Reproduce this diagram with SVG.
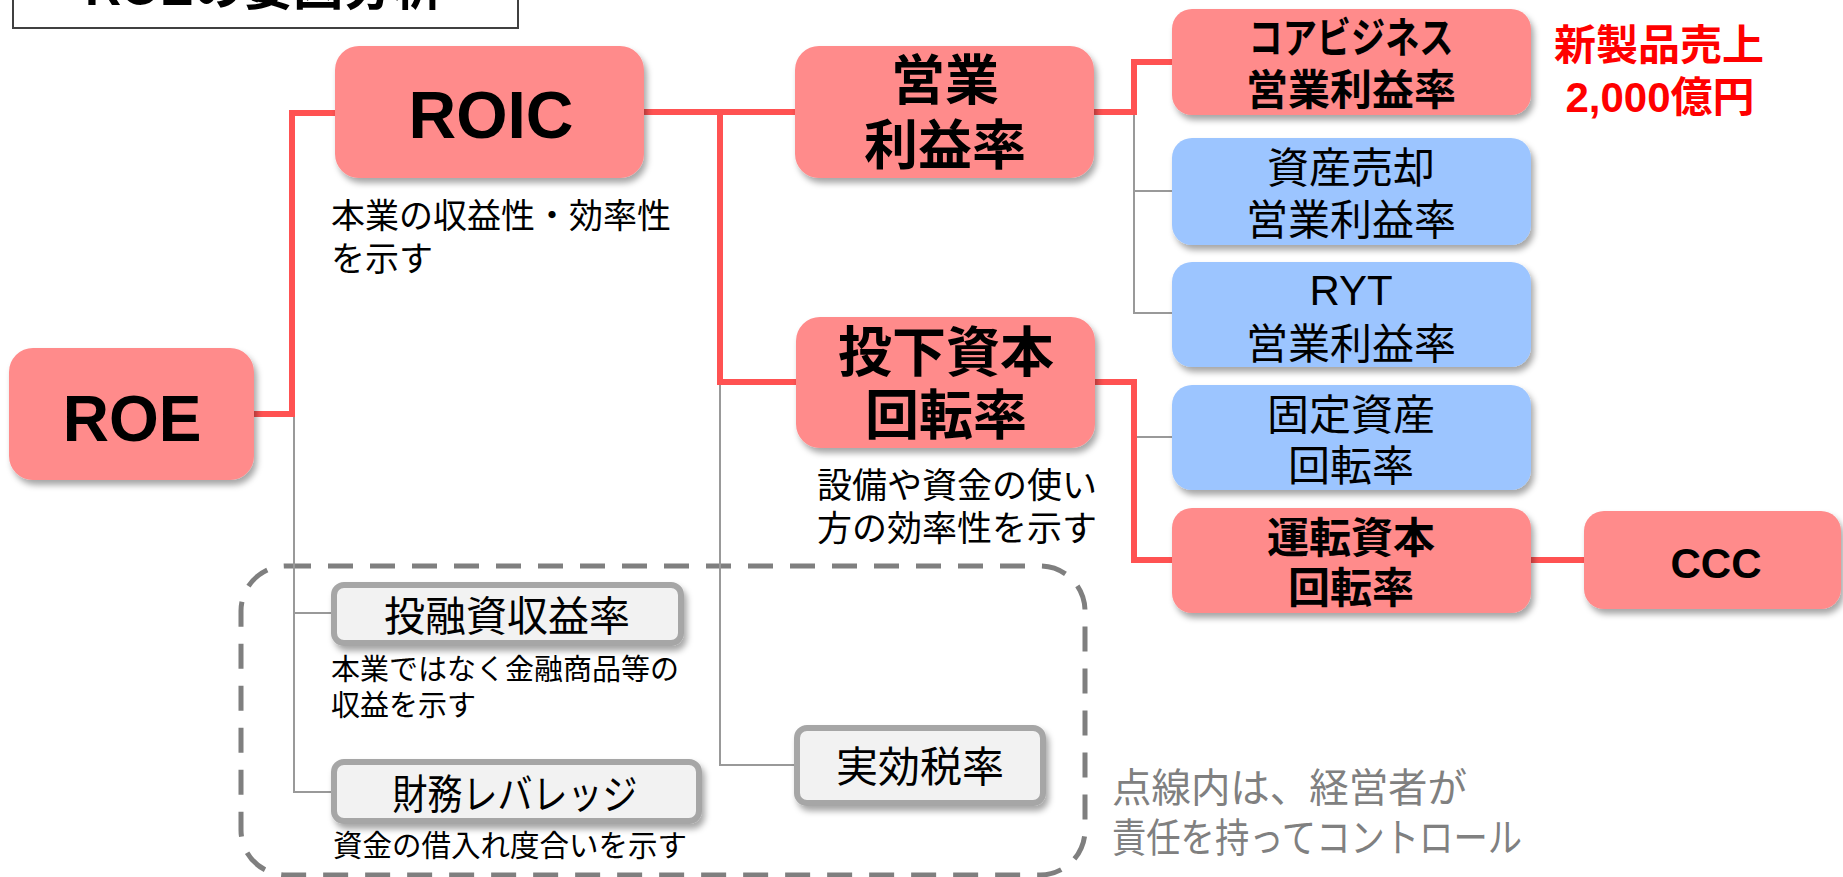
<svg xmlns="http://www.w3.org/2000/svg" width="1843" height="877" viewBox="0 0 1843 877">
<style>
.red{fill:#FF8B8B}
.blue{fill:#9CC5FF}
.gbox{fill:#F2F2F2;stroke:#A6A6A6;stroke-width:6}
.t{font-family:"Liberation Sans","Noto Sans CJK JP",sans-serif;fill:#000}
.j{font-family:"Noto Sans CJK JP",sans-serif;fill:#000}
.b{font-weight:bold}
.c{text-anchor:middle}
.rl{fill:none;stroke:#FF5252;stroke-width:6;stroke-linejoin:miter;stroke-linecap:square}
.gl{fill:none;stroke:#999999;stroke-width:2}
</style>
<defs>
<filter id="sh" x="-10%" y="-10%" width="130%" height="140%">
<feDropShadow dx="3" dy="5" stdDeviation="3" flood-color="#000" flood-opacity="0.35"/>
</filter>
</defs>
<rect width="1843" height="877" fill="#FFFFFF"/>

<g id="title">
<rect x="13" y="-10" width="505" height="38" fill="#FFFFFF" stroke="#404040" stroke-width="2"/>
<text class="t b" x="85" y="5" font-size="50">ROEの要因分析</text>
</g>

<g id="dashed-area">
<rect x="241" y="566" width="844" height="309" rx="45" fill="none" stroke="#7F7F7F" stroke-width="5" stroke-dasharray="25 17"/>
</g>

<g id="connectors">
<path class="gl" d="M294,414 V792 H334 M294,613 H334"/>
<path class="gl" d="M720,382 V765 H797"/>
<path class="gl" d="M1134,112 V313 H1172 M1134,191 H1172"/>
<path class="gl" d="M1134,437 H1172"/>
<path class="rl" d="M254,414 H292 V113 H335"/>
<path class="rl" d="M644,112 H795"/>
<path class="rl" d="M720,112 V382 H796"/>
<path class="rl" d="M1094,112 H1134 V62 H1172"/>
<path class="rl" d="M1095,382 H1134 V560 H1172"/>
<path class="rl" d="M1531,560 H1584"/>
</g>

<g id="roe">
<rect class="red" x="9" y="348" width="245" height="132" rx="24" filter="url(#sh)"/>
<text class="t b c" x="132" y="441" font-size="64">ROE</text>
</g>

<g id="roic">
<rect class="red" x="335" y="46" width="309" height="132" rx="24" filter="url(#sh)"/>
<text class="t b c" x="491" y="138" font-size="66">ROIC</text>
<text class="j" font-size="34"><tspan x="331" y="228">本業の収益性・効率性</tspan><tspan x="331" y="271">を示す</tspan></text>
</g>

<g id="op-margin">
<rect class="red" x="795" y="46" width="299" height="132" rx="24" filter="url(#sh)"/>
<text class="j b c" font-size="54"><tspan x="945" y="100">営業</tspan><tspan x="945" y="165">利益率</tspan></text>
</g>

<g id="invested-capital">
<rect class="red" x="796" y="317" width="299" height="131" rx="24" filter="url(#sh)"/>
<text class="j b c" font-size="54"><tspan x="946" y="372">投下資本</tspan><tspan x="946" y="435">回転率</tspan></text>
<text class="j" font-size="35"><tspan x="817" y="498">設備や資金の使い</tspan><tspan x="817" y="541">方の効率性を示す</tspan></text>
</g>

<g id="core">
<rect class="red" x="1172" y="9" width="359" height="106" rx="20" filter="url(#sh)"/>
<text class="j b c" font-size="42"><tspan x="1351" y="53" textLength="205" lengthAdjust="spacingAndGlyphs">コアビジネス</tspan><tspan x="1351" y="105">営業利益率</tspan></text>
</g>

<g id="new-product">
<text class="t b c" font-size="42" style="fill:#FF0000"><tspan x="1659" y="60">新製品売上</tspan><tspan x="1660" y="112">2,000億円</tspan></text>
</g>

<g id="asset-sale">
<rect class="blue" x="1172" y="138" width="359" height="107" rx="20" filter="url(#sh)"/>
<text class="j c" font-size="42"><tspan x="1351" y="183">資産売却</tspan><tspan x="1351" y="235">営業利益率</tspan></text>
</g>

<g id="ryt">
<rect class="blue" x="1172" y="262" width="359" height="105" rx="20" filter="url(#sh)"/>
<text class="t c" font-size="42"><tspan x="1351" y="305">RYT</tspan><tspan x="1351" y="359">営業利益率</tspan></text>
</g>

<g id="fixed-asset">
<rect class="blue" x="1172" y="385" width="359" height="105" rx="20" filter="url(#sh)"/>
<text class="j c" font-size="42"><tspan x="1351" y="430">固定資産</tspan><tspan x="1351" y="481">回転率</tspan></text>
</g>

<g id="working-capital">
<rect class="red" x="1172" y="508" width="359" height="105" rx="20" filter="url(#sh)"/>
<text class="j b c" font-size="42"><tspan x="1351" y="553">運転資本</tspan><tspan x="1351" y="603">回転率</tspan></text>
</g>

<g id="ccc">
<rect class="red" x="1584" y="511" width="257" height="98" rx="20" filter="url(#sh)"/>
<text class="t b c" x="1716" y="578" font-size="42">CCC</text>
</g>

<g id="investment-return">
<rect class="gbox" x="334" y="585" width="347" height="58" rx="10" filter="url(#sh)"/>
<text class="j c" x="507" y="631" font-size="41">投融資収益率</text>
<text class="j" font-size="29"><tspan x="331" y="680">本業ではなく金融商品等の</tspan><tspan x="331" y="716">収益を示す</tspan></text>
</g>

<g id="leverage">
<rect class="gbox" x="334" y="762" width="365" height="59" rx="10" filter="url(#sh)"/>
<text class="j c" x="515" y="809" font-size="41" textLength="245" lengthAdjust="spacingAndGlyphs">財務レバレッジ</text>
<text class="j" x="333" y="856" font-size="29.5">資金の借入れ度合いを示す</text>
</g>

<g id="tax-rate">
<rect class="gbox" x="797" y="728" width="246" height="75" rx="10" filter="url(#sh)"/>
<text class="j c" x="920" y="782" font-size="42">実効税率</text>
</g>

<g id="note">
<text class="j" font-size="40" style="fill:#808080"><tspan x="1112" y="802" textLength="355" lengthAdjust="spacingAndGlyphs">点線内は、経営者が</tspan><tspan x="1112" y="852" textLength="410" lengthAdjust="spacingAndGlyphs">責任を持ってコントロール</tspan></text>
</g>
</svg>
